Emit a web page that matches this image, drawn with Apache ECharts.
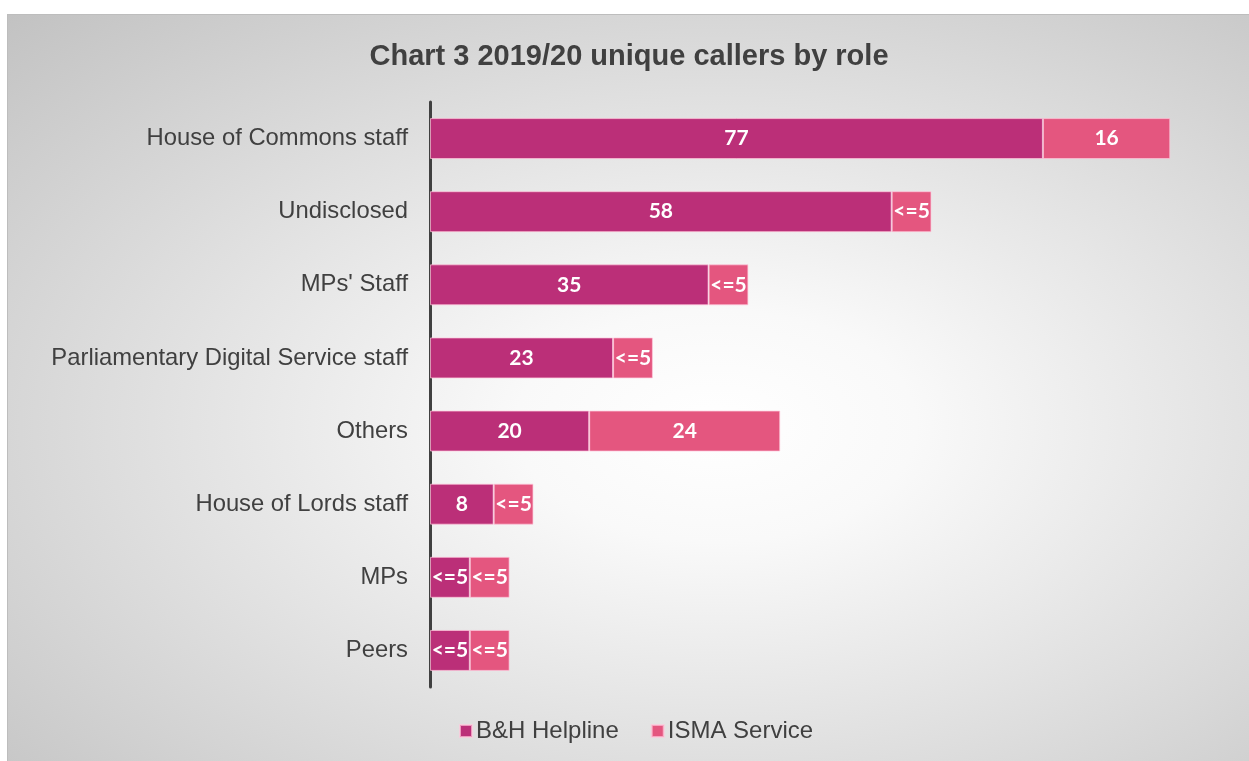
<!DOCTYPE html>
<html>
<head>
<meta charset="utf-8">
<script src="https://cdn.jsdelivr.net/npm/echarts@6/dist/echarts.min.js"></script>
<style>
html,body{margin:0;padding:0;width:1249px;height:761px;background:#fff;overflow:hidden;}
#wrap{position:absolute;left:7px;top:14px;width:1242px;height:747px;border-top:1px solid #bdbdbd;border-left:1px solid #bdbdbd;
background:radial-gradient(ellipse farthest-corner at 57% 55%, #ffffff 0%, #f9f9f9 20%, #c2c2c2 100%);}
#chart{width:1242px;height:747px;}
</style>
</head>
<body>
<div id="wrap"><div id="chart"></div></div>
<script>
const categories = ["House of Commons staff","Undisclosed","MPs' Staff","Parliamentary Digital Service staff","Others","House of Lords staff","MPs","Peers"];
const helpline = [77,58,35,23,20,8,5,5];
const isma = [16,5,5,5,24,5,5,5];
const seriesNames = ["B&H Helpline","ISMA Service"];
const titleText = "Chart 3 2019/20 unique callers by role";

const fmt = p => (p.value <= 5 ? "<=5" : String(p.value));
const labelCfg = {show:true, position:'inside', color:'#ffffff', fontFamily:'Lato', fontWeight:'bold', fontSize:21, formatter:fmt};

const chart = echarts.init(document.getElementById('chart'));
chart.setOption({
  backgroundColor:'transparent',
  animation:false,
  title:{text:titleText, left:'center', top:22, textStyle:{fontFamily:'Liberation Sans', fontWeight:'bold', fontSize:29, color:'#404040'}},
  legend:{bottom:14, left:446, itemWidth:12, itemHeight:12, itemGap:32, icon:'rect',
    textStyle:{fontFamily:'Liberation Sans', fontSize:24, color:'#404040', padding:[0,0,0,-1]}, data:seriesNames},
  grid:{left:422, right:24, top:87, bottom:75, containLabel:false},
  xAxis:{type:'value', min:0, max:100, show:false},
  yAxis:{type:'category', data:categories, inverse:true,
    axisLine:{show:true, lineStyle:{color:'#404040', width:3}},
    axisTick:{show:false},
    axisLabel:{margin:22, fontFamily:'Liberation Sans', fontSize:23.8, color:'#404040'}},
  series:[
    {name:seriesNames[0], type:'bar', stack:'t', data:helpline, barCategoryGap:'44%',
     itemStyle:{color:'#BB2F78', borderColor:'rgba(255,200,220,0.7)', borderWidth:1}, label:labelCfg},
    {name:seriesNames[1], type:'bar', stack:'t', data:isma,
     itemStyle:{color:'#E4567F', borderColor:'rgba(255,200,220,0.7)', borderWidth:1}, label:labelCfg}
  ]
});
</script>
</body>
</html>
